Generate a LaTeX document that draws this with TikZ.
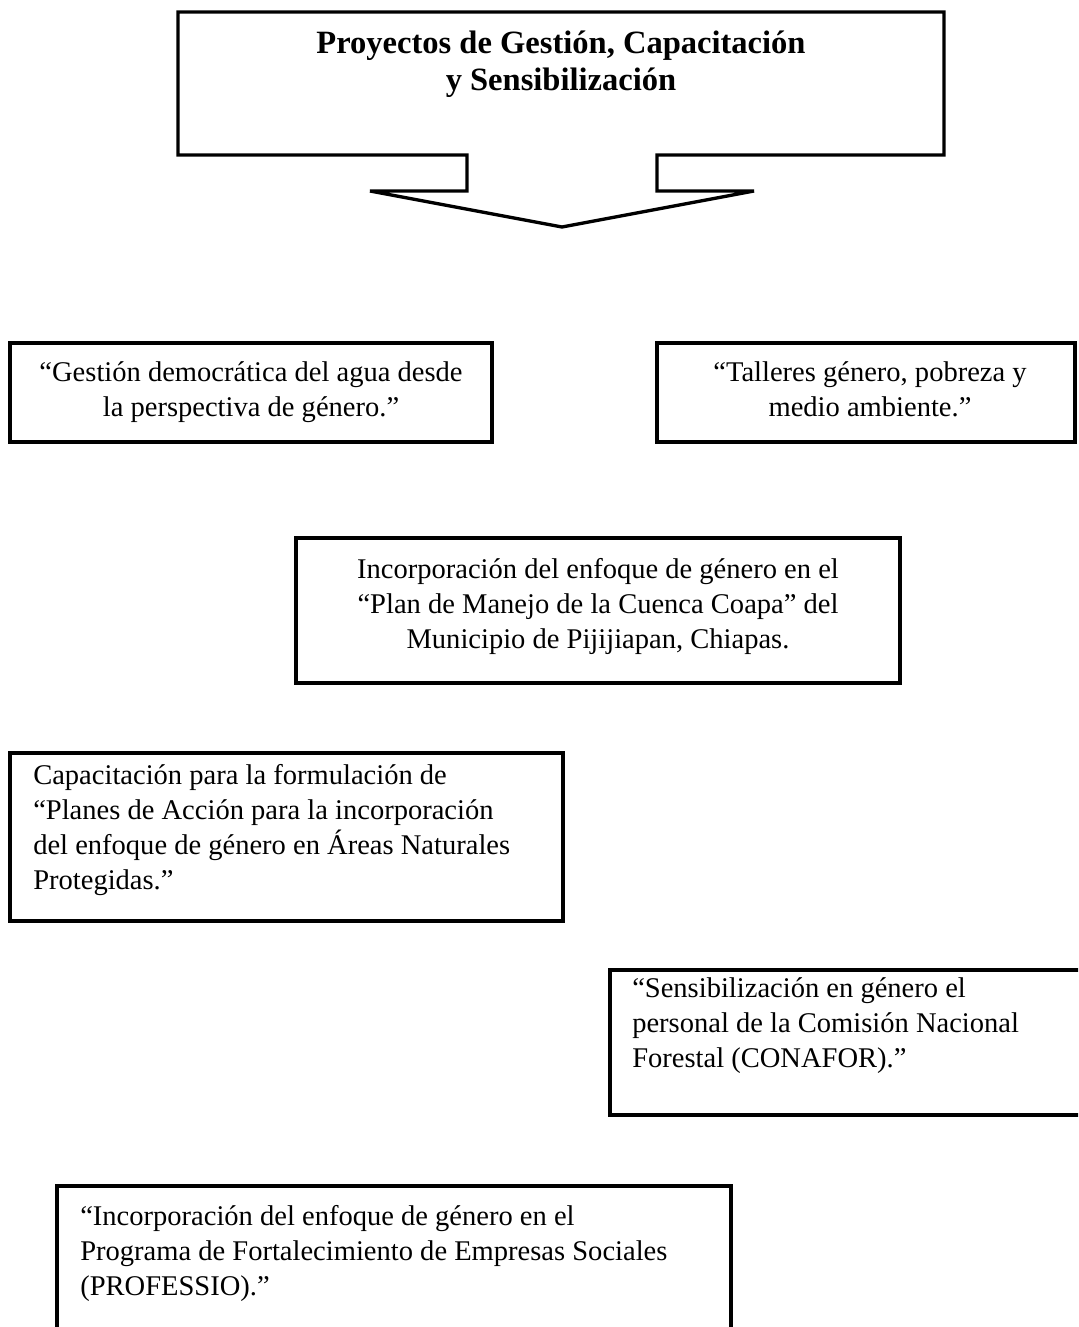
\documentclass[tikz,border=0pt]{standalone}
\usepackage{fontspec}
\setmainfont{Liberation Serif}
\tikzset{
  frame/.style={draw=black, line width=2.6pt, inner sep=0pt, outer sep=0pt},
  callout/.style={draw=black, line width=2.5pt, line join=miter},
  body/.style={inner sep=0pt, font=\fontsize{21.4}{26.25}\selectfont},
  bodyc/.style={body, align=center, anchor=north},
  bodyl/.style={body, align=left, anchor=north west},
  heading/.style={inner sep=0pt, font=\fontsize{24.4}{27.75}\selectfont\bfseries, align=center, anchor=north},
}
\newcommand{\topstrut}{\rule{0pt}{1em}}
\begin{document}
\begin{tikzpicture}[x=0.75pt,y=-0.75pt]
\useasboundingbox (0,0) rectangle (1078,1327);
\fill[white] (0,0) rectangle (1078,1327);
\clip (0,0) rectangle (1078,1327);

% heading callout with its downward arrow
\draw[callout] (178,12) -- (944,12) -- (944,155) -- (657,155) -- (657,191)
  -- (754,191) -- (562,227) -- (370,191) -- (467,191) -- (467,155)
  -- (178,155) -- cycle;
\node[heading] (title) at (561,20.5)
  {\topstrut Proyectos de Gestión, Capacitación\\y Sensibilización};

% project boxes
\node[frame, minimum width=482*0.75pt, minimum height=99*0.75pt] (boxA) at (251,392.5) {};
\node[bodyc] (txtA) at (251,352.5)
  {\topstrut “Gestión democrática del agua desde\\la perspectiva de género.”};

\node[frame, minimum width=418*0.75pt, minimum height=99*0.75pt] (boxB) at (866,392.5) {};
\node[bodyc] (txtB) at (870,352.5)
  {\topstrut “Talleres género, pobreza y\\medio ambiente.”};

\node[frame, minimum width=604*0.75pt, minimum height=145*0.75pt] (boxC) at (598,610.5) {};
\node[bodyc] (txtC) at (598,549.5)
  {\topstrut Incorporación del enfoque de género en el\\“Plan de Manejo de la Cuenca Coapa” del\\Municipio de Pijijiapan, Chiapas.};

\node[frame, minimum width=553*0.75pt, minimum height=168*0.75pt] (boxD) at (286.5,837) {};
\node[bodyl] (txtD) at (33,755.5)
  {\topstrut Capacitación para la formulación de\\“Planes de Acción para la incorporación\\del enfoque de género en Áreas Naturales\\Protegidas.”};

\node[frame, minimum width=480*0.75pt, minimum height=145*0.75pt] (boxE) at (850,1042.5) {};
\node[bodyl] (txtE) at (632,968.5)
  {\topstrut “Sensibilización en género el\\personal de la Comisión Nacional\\Forestal (CONAFOR).”};

\node[frame, minimum width=674*0.75pt, minimum height=154*0.75pt] (boxF) at (394,1263) {};
\node[bodyl] (txtF) at (80,1196.5)
  {\topstrut “Incorporación del enfoque de género en el\\Programa de Fortalecimiento de Empresas Sociales\\(PROFESSIO).”};
\end{tikzpicture}
\end{document}
